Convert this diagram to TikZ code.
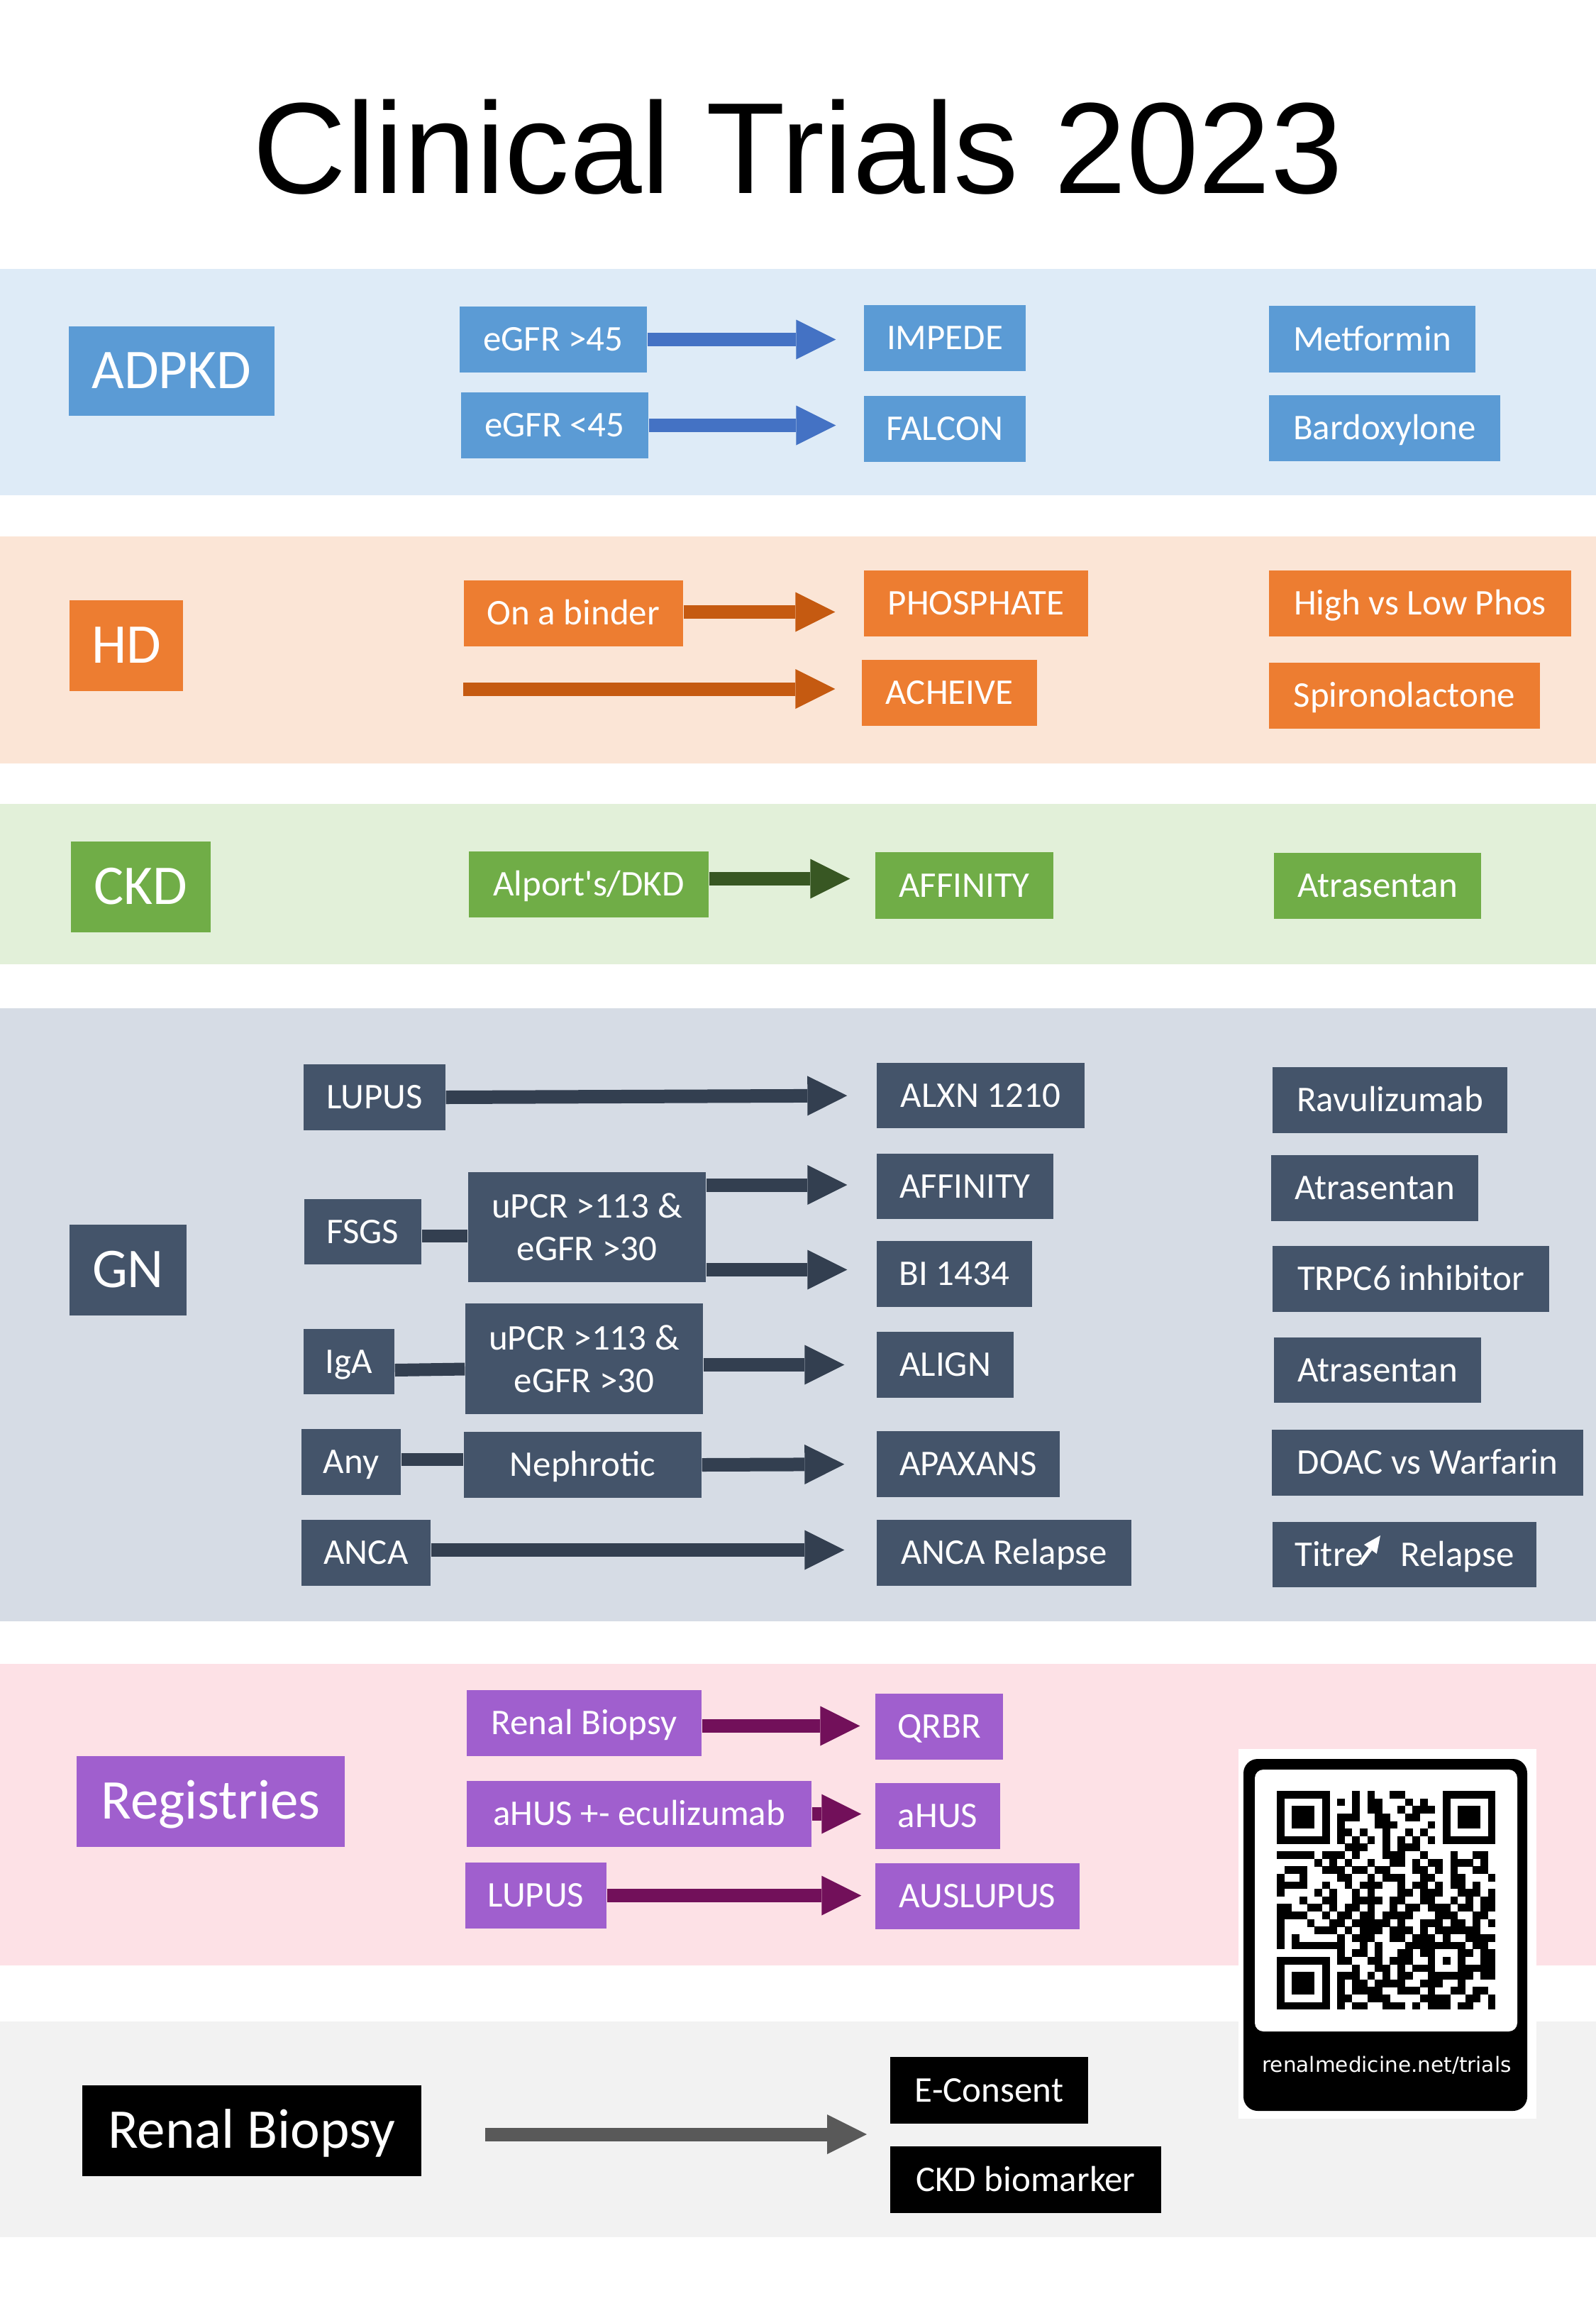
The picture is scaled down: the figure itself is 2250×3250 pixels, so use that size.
\documentclass[tikz,border=0pt]{standalone}
\usepackage{fontspec}
\setmainfont{Carlito}
\newfontfamily\plainfont{Carlito}
\newfontfamily\headfont{Liberation Sans}
\newfontfamily\capfont{DejaVu Sans}
\usetikzlibrary{arrows.meta}

% band backgrounds, box fills and arrow colours
\definecolor{pkband}{HTML}{DEEBF7}\definecolor{pkfill}{HTML}{5B9BD5}\definecolor{pkarrow}{HTML}{4472C4}
\definecolor{hdband}{HTML}{FBE5D6}\definecolor{hdfill}{HTML}{ED7D31}\definecolor{hdarrow}{HTML}{C55A11}
\definecolor{ckband}{HTML}{E2F0D9}\definecolor{ckfill}{HTML}{70AD47}\definecolor{ckarrow}{HTML}{385723}
\definecolor{gnband}{HTML}{D6DCE5}\definecolor{gnfill}{HTML}{44546A}\definecolor{gnarrow}{HTML}{333F50}
\definecolor{rgband}{HTML}{FDE1E6}\definecolor{rgfill}{HTML}{A05FCE}\definecolor{rgarrow}{HTML}{72105A}
\definecolor{rbband}{HTML}{F2F2F2}\definecolor{rbfill}{HTML}{000000}\definecolor{rbarrow}{HTML}{595959}

% box given by its corners: style, name, x1, y1, x2, y2, text
\newcommand{\trialbox}[7]{%
  \node[#1, minimum width={(#5-#3)*0.1mm}, minimum height={(#6-#4)*0.1mm}]
    (#2) at ({(#3+#5)/2},{(#4+#6)/2}) {#7};}

% QR modules, one row of 0/1 digits per call
\newcount\qrcolno
\newcount\qrrowno
\newcommand{\qrline}[1]{\qrcolno=0 \qrscan#1\relax\advance\qrrowno by 1 }
\def\qrscan#1{\ifx#1\relax\else
  \if1#1\fill[black] ({1800+\the\qrcolno*10.63},{2524+\the\qrrowno*10.63}) rectangle ++(10.8,10.8);\fi
  \advance\qrcolno by 1 \expandafter\qrscan\fi}

\tikzset{
  basebox/.style={rectangle, inner sep=0pt, text=white, align=center,
    font={\fontsize{14.5}{17}\selectfont}},
  tbox/.style={basebox, text height=9.2pt, text depth=0pt},
  bigbox/.style={font={\fontsize{22.5}{27}\selectfont}, text height=14.2pt},
  pkbox/.style={tbox, fill=pkfill},
  hdbox/.style={tbox, fill=hdfill},
  ckbox/.style={tbox, fill=ckfill},
  gnbox/.style={tbox, fill=gnfill},
  gnpair/.style={basebox, fill=gnfill},
  rgbox/.style={tbox, fill=rgfill},
  rbbox/.style={tbox, fill=rbfill},
  flow/.style={line width=1.9mm, -{Triangle[length=5.6mm, width=5.6mm, line width=0pt]}},
  link/.style={line width=1.8mm},
}

\begin{document}
\begin{tikzpicture}[x=0.1mm, y=-0.1mm]
\useasboundingbox (0,0) rectangle (2250,3250);
\fill[white] (0,0) rectangle (2250,3250);

% title
\node[anchor=base, font={\headfont\fontsize{52}{60}\selectfont}] (title) at (1125,272) {Clinical Trials 2023};

% bands
\fill[pkband] (0,379) rectangle (2250,698);
\fill[hdband] (0,756) rectangle (2250,1076);
\fill[ckband] (0,1133) rectangle (2250,1359);
\fill[gnband] (0,1421) rectangle (2250,2285);
\fill[rgband] (0,2345) rectangle (2250,2770);
\fill[rbband] (0,2849) rectangle (2250,3153);

% ADPKD
\trialbox{pkbox,bigbox}{adpkd}{97}{460}{387}{586}{ADPKD}
\trialbox{pkbox}{egfrhi}{648}{432}{912}{525}{eGFR >45}
\trialbox{pkbox}{egfrlo}{650}{553}{914}{646}{eGFR <45}
\trialbox{pkbox}{impede}{1218}{430}{1446}{523}{IMPEDE}
\trialbox{pkbox}{falcon}{1218}{558}{1446}{651}{FALCON}
\trialbox{pkbox}{metformin}{1789}{431}{2080}{525}{Metformin}
\trialbox{pkbox}{bardox}{1789}{557}{2115}{650}{Bardoxylone}
\draw[flow, draw=pkarrow, shorten >=3.9mm] (egfrhi.east) -- (egfrhi.east -| impede.west);
\draw[flow, draw=pkarrow, shorten >=3.9mm] (egfrlo.east) -- (egfrlo.east -| falcon.west);

% HD
\trialbox{hdbox,bigbox}{hd}{98}{846}{258}{974}{HD}
\trialbox{hdbox}{binder}{654}{818}{963}{911}{On a binder}
\trialbox{hdbox}{phosphate}{1218}{804}{1534}{897}{PHOSPHATE}
\trialbox{hdbox}{acheive}{1215}{930}{1462}{1023}{ACHEIVE}
\trialbox{hdbox}{highlow}{1789}{804}{2215}{897}{High vs Low Phos}
\trialbox{hdbox}{spiro}{1789}{934}{2171}{1027}{Spironolactone}
\coordinate (hdtail) at (653,971);
\draw[flow, draw=hdarrow, shorten >=4mm] ([yshift=0.2mm]binder.east) -- ([yshift=0.2mm]binder.east -| phosphate.west);
\draw[flow, draw=hdarrow, shorten >=3.7mm] (hdtail) -- (hdtail -| acheive.west);

% CKD
\trialbox{ckbox,bigbox}{ckd}{100}{1186}{297}{1314}{CKD}
\trialbox{ckbox}{alport}{661}{1200}{999}{1293}{{\plainfont Alport's/DKD}}
\trialbox{ckbox}{affinityck}{1234}{1201}{1485}{1295}{AFFINITY}
\trialbox{ckbox}{atrasck}{1796}{1202}{2088}{1295}{Atrasentan}
\draw[flow, draw=ckarrow, shorten >=3.5mm] ([yshift=0.8mm]alport.east) -- ([yshift=0.8mm]alport.east -| affinityck.west);

% GN
\trialbox{gnbox,bigbox}{gn}{98}{1726}{263}{1854}{GN}
\trialbox{gnbox}{lupus}{428}{1500}{628}{1593}{LUPUS}
\trialbox{gnbox}{fsgs}{429}{1690}{594}{1782}{FSGS}
\trialbox{gnpair}{upcrf}{660}{1652}{995}{1807}{uPCR >113 \&\\eGFR >30}
\trialbox{gnbox}{iga}{428}{1873}{556}{1965}{IgA}
\trialbox{gnpair}{upcri}{656}{1837}{991}{1993}{uPCR >113 \&\\eGFR >30}
\trialbox{gnbox}{any}{425}{2014}{565}{2107}{Any}
\trialbox{gnbox}{nephrotic}{654}{2018}{989}{2111}{Nephrotic}
\trialbox{gnbox}{anca}{425}{2142}{607}{2235}{ANCA}
\trialbox{gnbox}{alxn}{1236}{1498}{1529}{1590}{ALXN 1210}
\trialbox{gnbox}{affinitygn}{1236}{1626}{1485}{1718}{AFFINITY}
\trialbox{gnbox}{bi}{1236}{1749}{1455}{1842}{BI 1434}
\trialbox{gnbox}{align}{1236}{1877}{1429}{1970}{ALIGN}
\trialbox{gnbox}{apaxans}{1236}{2017}{1494}{2110}{APAXANS}
\trialbox{gnbox}{ancarel}{1236}{2142}{1595}{2235}{ANCA Relapse}
\trialbox{gnbox}{ravu}{1794}{1504}{2125}{1597}{Ravulizumab}
\trialbox{gnbox}{atrasgn}{1792}{1628}{2084}{1721}{Atrasentan}
\trialbox{gnbox}{trpc}{1794}{1756}{2184}{1849}{TRPC6 inhibitor}
\trialbox{gnbox}{atrasiga}{1796}{1885}{2088}{1977}{Atrasentan}
\trialbox{gnbox}{doac}{1793}{2015}{2232}{2108}{DOAC vs Warfarin}
\trialbox{gnbox}{titre}{1794}{2145}{2166}{2237}{Titre\hspace{1.04em}Relapse}
\draw[white, line width=0.55mm, -{Triangle[length=2.4mm, width=2.2mm, line width=0pt]}] (1917,2204) -- (1946,2164);

\draw[flow, draw=gnarrow, shorten >=4.1mm] (lupus.east) -- (alxn.west);
\draw[link, draw=gnarrow] ([yshift=-0.6mm]fsgs.east) -- ([yshift=-0.6mm]fsgs.east -| upcrf.west);
\draw[flow, draw=gnarrow, shorten >=4.1mm] ([yshift=0.2mm]upcrf.east |- affinitygn.west) -- ([yshift=0.2mm]affinitygn.west);
\draw[flow, draw=gnarrow, shorten >=4.1mm] ([yshift=0.6mm]upcrf.east |- bi.west) -- ([yshift=0.6mm]bi.west);
\draw[link, draw=gnarrow] ([yshift=-1.2mm]iga.east) -- ([yshift=-1.45mm]upcri.west);
\draw[flow, draw=gnarrow, shorten >=4.5mm] (upcri.east |- align.west) -- (align.west);
\draw[link, draw=gnarrow] ([yshift=0.4mm]any.east) -- ([yshift=0.4mm]any.east -| nephrotic.west);
\draw[flow, draw=gnarrow, shorten >=4.5mm] (nephrotic.east) -- (apaxans.west);
\draw[flow, draw=gnarrow, shorten >=4.5mm] ([yshift=0.4mm]anca.east) -- ([yshift=0.4mm]ancarel.west);

% Registries
\trialbox{rgbox,bigbox}{registries}{108}{2475}{486}{2603}{Registries}
\trialbox{rgbox}{rgbiopsy}{658}{2382}{989}{2475}{Renal Biopsy}
\trialbox{rgbox}{qrbr}{1234}{2387}{1414}{2480}{QRBR}
\trialbox{rgbox}{ahuseculi}{658}{2510}{1144}{2603}{aHUS +- eculizumab}
\trialbox{rgbox}{ahus}{1234}{2513}{1410}{2606}{aHUS}
\trialbox{rgbox}{rglupus}{656}{2625}{855}{2718}{LUPUS}
\trialbox{rgbox}{auslupus}{1234}{2626}{1522}{2719}{AUSLUPUS}
\draw[flow, draw=rgarrow, shorten >=2.1mm] ([yshift=-0.4mm]rgbiopsy.east) -- ([yshift=-0.4mm]rgbiopsy.east -| qrbr.west);
\draw[flow, draw=rgarrow, shorten >=1.9mm] (ahuseculi.east) -- (ahuseculi.east -| ahus.west);
\draw[flow, draw=rgarrow, shorten >=1.9mm] (rglupus.east) -- (rglupus.east -| auslupus.west);

% Renal Biopsy
\trialbox{rbbox,bigbox}{renalbiopsy}{116}{2939}{594}{3067}{Renal Biopsy}
\trialbox{rbbox}{econsent}{1255}{2899}{1534}{2993}{E-Consent}
\trialbox{rbbox}{ckdbio}{1255}{3025}{1637}{3119}{CKD biomarker}
\coordinate (rbtail) at (684,3008);
\coordinate (rbhead) at (1222,3008);
\draw[flow, draw=rbarrow] (rbtail) -- (rbhead);

% QR code card
\fill[white] (1746,2465) rectangle (2166,2986);
\fill[black, rounded corners=2mm] (1753,2479) rectangle (2153,2975);
\fill[white, rounded corners=1.2mm] (1769,2494) rectangle (2139,2863);
\qrrowno=0
\qrline{1111111 0 0010100110000 0 1111111}
\qrline{1000001 0 1010110001010 0 1000001}
\qrline{1011101 0 0010110010111 0 1011101}
\qrline{1011101 0 1110011001100 0 1011101}
\qrline{1011101 0 1000011100001 0 1011101}
\qrline{1000001 0 1101001001010 0 1000001}
\qrline{1111111 0 1010101010101 0 1111111}
\qrline{0000000 0 0111001011100 0 0000000}
\qrline{111110 1 1 1 010001110010 00100110}
\qrline{000001 0 1010010011010110111010}
\qrline{011100 1 1101101100011010100110}
\qrline{100100 0 0110010111001100110001}
\qrline{111100 1 0010111001011010110100}
\qrline{100001 0 1001010001101110011101}
\qrline{000100 1 1001111011001100101011}
\qrline{110011 0 1011010010110111011011}
\qrline{111100 1 0110110111100011100110}
\qrline{100010 0 1101111101001110110101}
\qrline{100001 1 1010111011101011111100}
\qrline{101000 0 0101110011011101001111}
\qrline{101111 1 1100101000111 11111 0110}
\qrline{0000000 0 1 01101001101 10001 1011}
\qrline{1111111 0 1 10011011100 10101 0011}
\qrline{1000001 0 0 01001101011 10001 1111}
\qrline{1011101 0 1 11010101100 11111 1011}
\qrline{1011101 0 1 01101111001 110010000}
\qrline{1011101 0 1 01111001110 100110110}
\qrline{1000001 0 1 10011100001 111001101}
\qrline{1111111 0 1 01100111010 111011001}
\node[text=white, font={\capfont\fontsize{8.4}{10}\selectfont}] (qrcaption) at (1955,2911) {renalmedicine.net/trials};
\end{tikzpicture}
\end{document}
